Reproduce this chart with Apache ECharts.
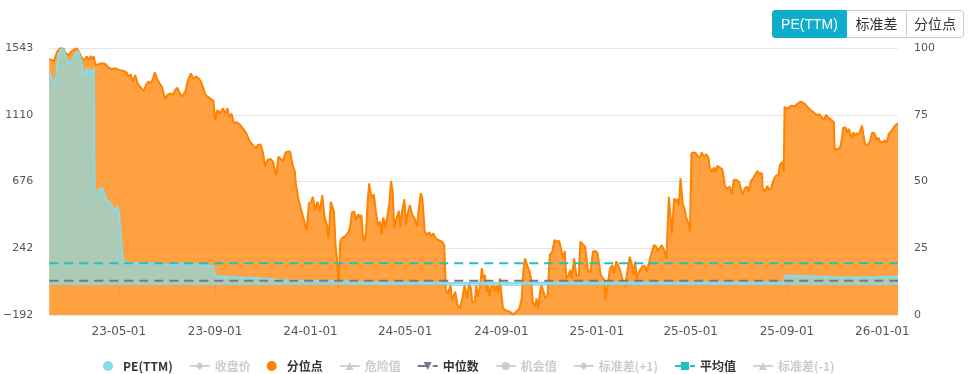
<!DOCTYPE html>
<html>
<head>
<meta charset="utf-8">
<script src="https://cdn.jsdelivr.net/npm/echarts@6/dist/echarts.min.js"></script>
<style>
html,body{margin:0;padding:0;background:#fff;}
#chart{position:absolute;left:0;top:0;width:973px;height:374px;}
.tabs{position:absolute;left:772px;top:10px;display:flex;font-family:'Liberation Sans','Noto Sans CJK SC',sans-serif;font-size:14px;z-index:5;}
.tab{box-sizing:border-box;height:28px;line-height:26px;text-align:center;border:1px solid #ccc;color:#333;background:#fff;}
.tab.on{background:#0fadcb;border-color:#0fadcb;color:#fff;border-radius:3px 0 0 3px;}
.tab.last{border-radius:0 3px 3px 0;}
.tab.mid{border-left:none;}
.tab.last{border-left:1px solid #ccc;}
</style>
</head>
<body>
<div id="chart"></div>
<div class="tabs">
  <div class="tab on" style="width:75px">PE(TTM)</div>
  <div class="tab mid" style="width:59px;border-right:none">标准差</div>
  <div class="tab last" style="width:58px">分位点</div>
</div>
<script>
// ---------- data ----------
const startDate = [2023, 1, 1]; // 2023-02-01, day offsets below are counted from here
const xTickLabels = ['2023-05-01','2023-09-01','2024-01-01','2024-05-01','2024-09-01','2025-01-01','2025-05-01','2025-09-01','2026-01-01'];
const leftTicks = [-191.6, 1543.4];
const rightTicks = [0, 100];
const medianValue = 31;
const meanValue = 144;

// PE(TTM): [day offset, PE]
const pePoints = [[0,1385],[4,1335],[8,1320],[10,1433],[12,1508],[15,1536],[19,1530],[21,1487],[25,1443],[29,1465],[34,1508],[37,1523],[40,1476],[43,1400],[45,1372],[48,1411],[49,1372],[52,1400],[55,1372],[57,1411],[58,609],[60,577],[63,620],[68,631],[70,609],[73,555],[76,549],[79,527],[82,501],[85,490],[87,512],[89,480],[91,350],[93,220],[95,155],[104,144],[121,140],[138,144],[150,133],[163,137],[176,144],[189,137],[206,129],[210,122],[212,61],[231,57],[273,46],[295,36],[320,31],[367,29],[400,22],[450,20],[500,18],[520,16],[560,18],[600,17],[650,19],[700,18],[750,19],[800,18],[850,20],[900,19],[939,19],[940,64],[960,62],[980,59],[1003,53],[1004,51],[1040,53],[1085,57]];

// 分位点 (percentile, %): [day offset, value]
const pctPoints = [[0,95.9],[6,95.1],[8,95.5],[10,98.6],[14,99.9],[19,99.6],[21,98.0],[25,97.4],[29,98.9],[35,99.9],[38,98.6],[42,96.1],[45,95.5],[48,96.8],[51,95.5],[53,97.0],[55,95.9],[57,96.8],[59,93.6],[63,93.9],[68,94.3],[72,93.9],[76,92.6],[80,92.1],[85,92.4],[89,91.8],[95,91.4],[99,90.9],[101,89.3],[104,90.1],[107,87.4],[110,89.9],[113,86.8],[116,85.5],[121,83.9],[124,86.4],[127,87.4],[130,86.8],[132,88.0],[135,90.9],[138,88.4],[141,86.8],[144,85.5],[148,80.9],[151,82.4],[155,83.0],[158,82.4],[161,84.3],[164,85.1],[166,83.6],[169,81.8],[174,83.6],[177,87.6],[181,90.5],[184,88.6],[188,89.3],[191,88.6],[194,87.4],[197,84.9],[200,82.4],[206,81.1],[210,80.1],[212,73.0],[215,76.8],[218,75.5],[222,77.4],[225,75.5],[228,77.4],[230,73.9],[233,75.5],[236,71.8],[240,72.2],[244,71.2],[248,69.7],[252,68.0],[256,65.2],[260,63.7],[264,62.4],[267,63.7],[270,63.9],[273,61.2],[276,55.6],[279,58.1],[283,58.4],[286,57.4],[290,52.2],[293,59.3],[295,59.7],[299,57.7],[302,60.9],[305,61.2],[308,61.2],[311,56.2],[314,53.9],[315,49.7],[318,44.3],[322,39.3],[325,36.2],[329,31.6],[332,41.8],[335,42.4],[337,44.3],[340,39.3],[343,42.4],[346,38.7],[349,44.9],[352,36.8],[355,33.7],[357,28.7],[360,42.4],
[364,38.7],[366,26.2],[368,20.6],[370,10.0],[372,27.5],[374,28.7],[379,29.7],[383,31.2],[385,33.7],[387,38.5],[390,38.7],[392,35.6],[395,37.7],[398,36.5],[399,37.5],[401,29.3],[403,27.7],[405,31.2],[407,42.4],[409,49.3],[412,43.7],[415,45.2],[417,40.0],[420,33.7],[423,35.0],[425,30.0],[427,36.5],[430,32.7],[432,33.1],[435,42.4],[437,50.2],[439,46.2],[441,32.7],[444,36.2],[447,39.0],[449,33.1],[451,38.7],[454,43.4],[456,33.7],[458,37.5],[461,41.2],[464,37.5],[467,36.2],[470,33.1],[473,41.2],[475,45.6],[477,43.7],[480,31.2],[483,30.0],[486,31.0],[488,29.3],[491,30.6],[494,28.7],[497,28.1],[502,27.5],[505,26.2],[507,9.4],[510,8.1],[513,11.2],[515,5.6],[519,8.7],[522,3.7],[525,2.5],[528,6.2],[531,11.2],[534,6.2],[537,11.9],[539,10.0],[541,4.4],[544,5.0],[546,11.2],[548,6.9],[551,11.2],[553,17.5],[555,13.7],[557,15.0],[559,8.7],[561,11.2],[563,6.9],[565,10.6],[568,11.2],[570,8.7],[572,11.2],[574,8.1],[576,13.7],[578,14.4],[580,2.5],[585,1.5],[589,1.2],[593,0.2],[597,1.2],[601,2.5],[604,6.2],[606,16.2],[608,21.2],[611,18.7],[614,16.2],[616,13.7],[618,5.0],[621,3.1],[623,6.2],[625,2.5],[627,7.5],[629,11.2],[632,8.7],[634,6.2],[637,7.5],[640,22.5],[643,23.7],[646,28.1],[649,27.5],[652,27.7],[655,23.7],[657,21.2],[659,24.0],[661,13.7],[664,15.0],[666,16.9],[668,13.7],[671,21.2],[674,14.4],[677,15.0],[679,27.5],[682,26.5],[685,25.6],[689,16.2],[692,16.2],[695,23.7],[698,24.0],[701,23.1],[705,15.0],[708,13.7],[710,12.9],[711,5.6],[713,5.6],[715,13.7],[717,17.5],[720,18.7],[722,15.6],[725,20.2],
[729,17.5],[733,13.1],[736,10.6],[739,16.2],[742,21.8],[745,18.7],[747,15.0],[749,20.0],[751,13.1],[753,15.6],[756,17.2],[759,18.5],[762,18.1],[764,16.2],[766,18.7],[769,22.2],[771,22.7],[773,26.2],[776,25.6],[778,23.7],[780,25.0],[783,26.2],[786,24.3],[789,21.2],[792,44.3],[793,43.7],[796,30.6],[799,43.7],[801,42.4],[803,43.4],[805,41.2],[807,51.2],[810,41.2],[812,40.0],[814,36.8],[816,37.5],[818,33.7],[819,31.2],[821,60.5],[824,60.9],[827,60.5],[830,58.9],[833,59.7],[834,60.9],[837,59.3],[840,60.2],[843,58.7],[844,55.6],[847,53.7],[850,55.2],[852,53.7],[854,55.9],[857,55.2],[860,54.7],[861,53.7],[864,48.1],[867,47.4],[870,48.1],[873,45.2],[875,50.6],[878,50.6],[882,49.9],[885,46.2],[887,45.2],[889,47.4],[892,48.1],[894,46.2],[897,50.2],[900,51.2],[902,51.4],[905,53.9],[907,53.1],[911,53.1],[912,47.4],[915,46.2],[918,48.4],[920,46.8],[923,47.7],[926,50.6],[929,52.2],[932,52.4],[934,56.2],[937,57.4],[939,53.7],[940,78.0],[943,77.2],[945,76.8],[949,78.4],[952,78.0],[955,78.7],[957,79.3],[960,79.9],[963,79.7],[967,78.7],[970,77.7],[973,76.8],[977,75.9],[981,74.9],[984,75.2],[987,74.3],[990,73.0],[993,74.9],[996,73.9],[1000,73.0],[1003,72.2],[1004,61.8],[1007,62.2],[1010,62.4],[1012,63.7],[1015,70.2],[1018,70.2],[1020,68.0],[1022,69.7],[1024,69.3],[1026,66.2],[1028,68.4],[1030,67.2],[1032,68.0],[1035,67.7],[1037,69.3],[1039,70.9],[1041,67.2],[1043,63.9],[1046,63.7],[1049,64.9],[1052,68.4],[1055,68.0],[1058,65.5],[1060,66.4],[1062,64.9],[1064,65.5],[1066,64.7],[1068,65.5],[1071,64.7],[1073,67.7],[1076,68.7],[1079,69.9],[1081,70.9],[1085,71.8]];

// ---------- build ----------
function dayToTime(d){ return new Date(startDate[0], startDate[1], startDate[2] + d).getTime(); }
function parseDate(s){ const p = s.split('-').map(Number); return new Date(p[0], p[1]-1, p[2]).getTime(); }
function pad(n){ return (n < 10 ? '0' : '') + n; }
function fmtDate(t){ const d = new Date(t); return pad(d.getFullYear() % 100) + '-' + pad(d.getMonth()+1) + '-' + pad(d.getDate()); }
function fmtNum(v){ const r = Math.round(v); return r < 0 ? '\u2212' + Math.abs(r) : String(r); }

const peData = pePoints.map(p => [dayToTime(p[0]), p[1]]);
const pctData = pctPoints.map(p => [dayToTime(p[0]), p[1]]);
const firstT = dayToTime(pePoints[0][0]);
const lastT = dayToTime(pePoints[pePoints.length-1][0]);
const medianData = [[firstT, medianValue],[lastT, medianValue]];
const meanData = [[firstT, meanValue],[lastT, meanValue]];
const tickTimes = xTickLabels.map(parseDate);

const chart = echarts.init(document.getElementById('chart'), null, {renderer:'canvas'});
const axisFont = "'DejaVu Sans', sans-serif";
const legendFont = "'Noto Sans CJK SC', 'Noto Sans', sans-serif";
const dash = [9, 6];

function hiddenLine(name, symbol, color){
  return {name, type:'line', yAxisIndex:0, data:[], symbol, showSymbol:false,
    lineStyle:{color, width:2, type:dash}, itemStyle:{color}};
}

chart.setOption({
  animation:false,
  grid:{left:46, right:75, top:48, bottom:59, containLabel:false},
  legend:{
    left:98, top:355, itemWidth:20, itemHeight:10, itemGap:16,
    textStyle:{color:'#333', fontSize:12, fontWeight:'bold', fontFamily:legendFont},
    inactiveColor:'#ccc',
    data:[
      {name:'PE(TTM)', icon:'circle'},
      {name:'收盘价'},
      {name:'分位点', icon:'circle'},
      {name:'危险值'},
      {name:'中位数'},
      {name:'机会值'},
      {name:'标准差(+1)'},
      {name:'平均值'},
      {name:'标准差(-1)'}
    ],
    selected:{'收盘价':false,'危险值':false,'机会值':false,'标准差(+1)':false,'标准差(-1)':false}
  },
  xAxis:{
    type:'value', min:firstT, max:lastT,
    axisLine:{lineStyle:{color:'#c6d0e2'}},
    axisTick:{show:true, length:6, lineStyle:{color:'#c6d0e2'}, customValues:tickTimes},
    axisLabel:{customValues:tickTimes, formatter:(v)=>fmtDate(v), color:'#555', fontSize:12, fontFamily:axisFont, margin:11},
    splitLine:{show:false}
  },
  yAxis:[
    {type:'value', min:leftTicks[0], max:leftTicks[1], interval:(leftTicks[1]-leftTicks[0])/4,
     axisLine:{show:false}, axisTick:{show:false},
     axisLabel:{formatter:fmtNum, color:'#555', fontSize:11, fontFamily:axisFont, margin:16},
     splitLine:{lineStyle:{color:'#e6e6e6'}}},
    {type:'value', min:rightTicks[0], max:rightTicks[1], interval:25,
     axisLine:{show:false}, axisTick:{show:false},
     axisLabel:{color:'#555', fontSize:11, fontFamily:axisFont, margin:16},
     splitLine:{show:false}}
  ],
  series:[
    {name:'PE(TTM)', type:'line', yAxisIndex:0, data:peData, showSymbol:false, symbol:'circle', z:3,
     lineStyle:{color:'#87dcea', width:2}, itemStyle:{color:'#87dcea'},
     areaStyle:{color:'#87dcea', opacity:0.7}},
    {name:'收盘价', type:'line', yAxisIndex:0, data:[], symbol:'diamond', showSymbol:false,
     lineStyle:{color:'#999', width:2}, itemStyle:{color:'#999'}},
    {name:'分位点', type:'line', yAxisIndex:1, data:pctData, showSymbol:false, symbol:'circle', z:2,
     lineStyle:{color:'#ff8200', width:2}, itemStyle:{color:'#ff8200'},
     areaStyle:{color:'#ff8200', opacity:0.75}},
    hiddenLine('危险值','triangle','#e05050'),
    {name:'中位数', type:'line', yAxisIndex:0, data:medianData, symbol:'triangle', symbolRotate:180, showSymbol:false, z:4,
     lineStyle:{color:'#737b89', width:2, type:dash}, itemStyle:{color:'#737b89'}},
    hiddenLine('机会值','circle','#40a040'),
    hiddenLine('标准差(+1)','diamond','#aaaaaa'),
    {name:'平均值', type:'line', yAxisIndex:0, data:meanData, symbol:'rect', showSymbol:false, z:4,
     lineStyle:{color:'#22c0c0', width:2, type:dash}, itemStyle:{color:'#22c0c0'}},
    hiddenLine('标准差(-1)','triangle','#aaaaaa')
  ]
});
</script>
</body>
</html>
